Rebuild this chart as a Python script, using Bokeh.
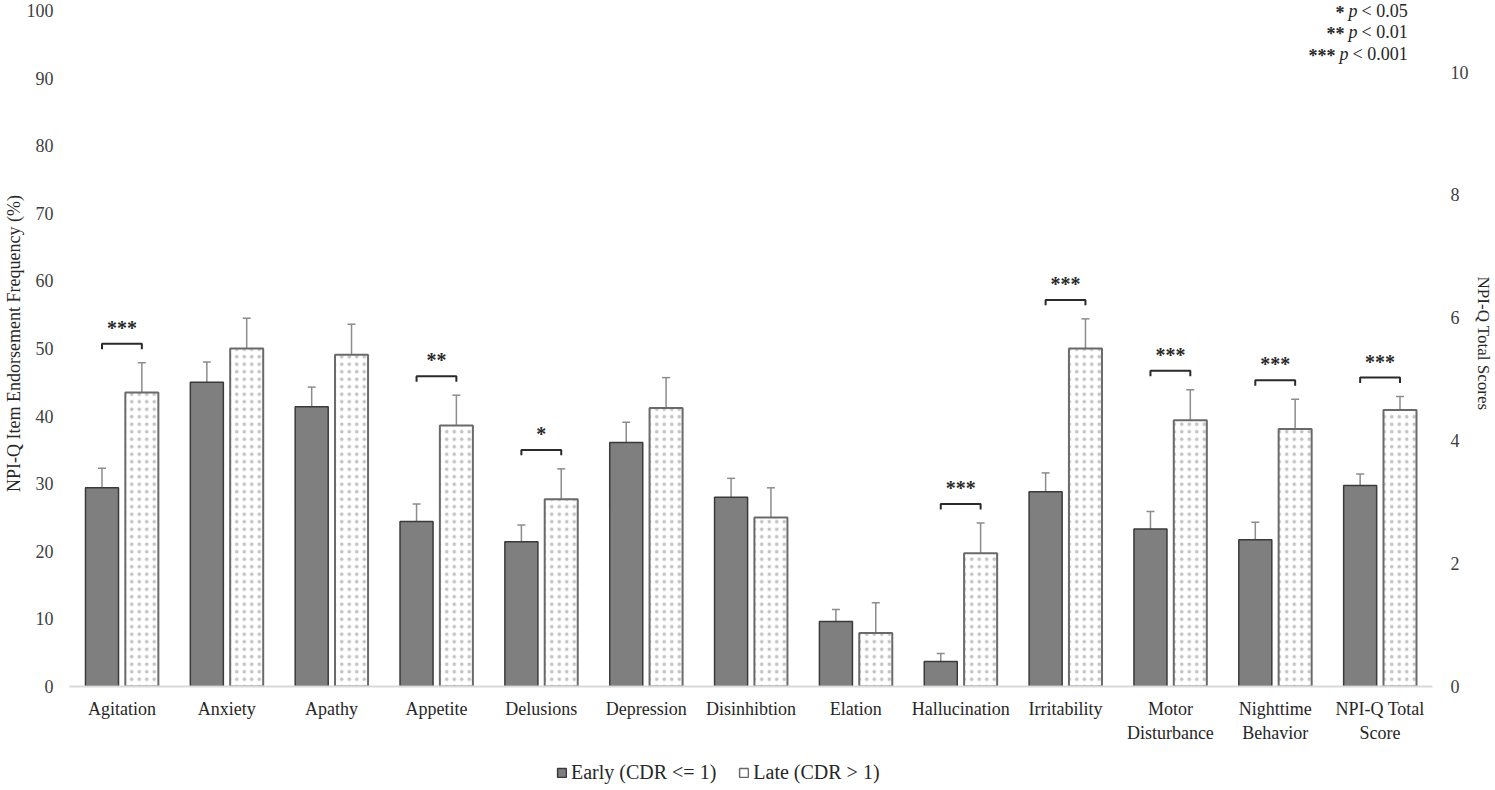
import numpy as np
from bokeh.plotting import figure
from bokeh.layouts import column
from bokeh.models import (Range1d, LinearAxis, FixedTicker, Whisker, TeeHead,
                          ColumnDataSource, Legend, LegendItem, Label)
from bokeh.embed import file_html
from bokeh.resources import INLINE
from bokeh.core.properties import value

# ---------------- data ----------------
categories = ["Agitation", "Anxiety", "Apathy", "Appetite", "Delusions", "Depression",
              "Disinhibtion", "Elation", "Hallucination", "Irritability",
              "Motor\nDisturbance", "Nighttime\nBehavior", "NPI-Q Total\nScore"]
early_pct = [29.4, 45.0, 41.4, 24.4, 21.4, 36.1, 28.0, 9.6, 3.7, 28.8, 23.3, 21.7]
early_err = [2.9, 3.0, 2.9, 2.6, 2.5, 3.0, 2.8, 1.8, 1.2, 2.8, 2.6, 2.6]
late_pct = [43.5, 50.0, 49.1, 38.6, 27.7, 41.2, 25.0, 7.9, 19.7, 50.0, 39.4, 38.1]
late_err = [4.4, 4.5, 4.5, 4.5, 4.5, 4.5, 4.4, 4.5, 4.5, 4.4, 4.5, 4.4]
total_early = [3.27]
total_early_err = [0.19]
total_late = [4.50]
total_late_err = [0.22]
sig = ["***", "", "", "**", "*", "", "", "", "***", "***", "***", "***", "***"]
left_ticks = [0, 10, 20, 30, 40, 50, 60, 70, 80, 90, 100]
right_ticks = [0, 2, 4, 6, 8, 10]
sig_legend = [("*", "< 0.05"), ("**", "< 0.01"), ("***", "< 0.001")]
series_names = ["Early (CDR <= 1)", "Late (CDR > 1)"]

# ---------------- style ----------------
FONT = "Liberation Serif"
DARK = "#7f7f7f"
TXT = "#262626"
OFF = 0.19
BW = 0.315
ERRC = "#8c8c8c"
TOP_PAD = 1.015  # axis max a little above the top tick

n_items = len(early_pct)
idx = np.arange(n_items)
ti = len(categories) - 1

p = figure(width=1495, height=750, output_backend="svg", toolbar_location=None,
           x_range=Range1d(-0.5, len(categories) - 0.5), y_range=Range1d(0, 100 * TOP_PAD),
           min_border_left=69, min_border_right=62, min_border_top=0, min_border_bottom=64)
p.extra_y_ranges = {"right": Range1d(0, 11 * TOP_PAD)}
p.outline_line_color = None
p.grid.visible = False
p.border_fill_color = "white"

src_e = ColumnDataSource(dict(x=idx - OFF, top=early_pct,
                              lo=np.array(early_pct) - np.array(early_err),
                              hi=np.array(early_pct) + np.array(early_err)))
src_l = ColumnDataSource(dict(x=idx + OFF, top=late_pct,
                              lo=np.array(late_pct) - np.array(late_err),
                              hi=np.array(late_pct) + np.array(late_err)))
src_te = ColumnDataSource(dict(x=[ti - OFF], top=total_early,
                               lo=np.array(total_early) - np.array(total_early_err),
                               hi=np.array(total_early) + np.array(total_early_err)))
src_tl = ColumnDataSource(dict(x=[ti + OFF], top=total_late,
                               lo=np.array(total_late) - np.array(total_late_err),
                               hi=np.array(total_late) + np.array(total_late_err)))

dark_kw = dict(fill_color=DARK, line_color="#3a3a3a", line_width=1.5)
light_kw = dict(fill_color="white", line_color="#6a6a6a", line_width=2,
                hatch_pattern="dot", hatch_color="#c4c4c4", hatch_scale=7.5, hatch_weight=0.6)

p.vbar(x="x", top="top", width=BW, bottom=0, source=src_e, **dark_kw)
p.vbar(x="x", top="top", width=BW, bottom=0, source=src_l, **light_kw)
p.vbar(x="x", top="top", width=BW, bottom=0, source=src_te, y_range_name="right", **dark_kw)
p.vbar(x="x", top="top", width=BW, bottom=0, source=src_tl, y_range_name="right", **light_kw)

for s, rn in [(src_e, "default"), (src_l, "default"), (src_te, "right"), (src_tl, "right")]:
    w = Whisker(source=s, base="x", upper="hi", lower="lo", line_color=ERRC, line_width=1.5,
                upper_head=TeeHead(size=8, line_color=ERRC, line_width=1.5),
                lower_head=TeeHead(size=8, line_color=ERRC, line_width=1.5))
    if rn == "right":
        w.y_range_name = "right"
    p.add_layout(w)

# significance brackets
GAP = 2.8
LEG = 0.8
bx, by, tx, ty, tt = [], [], [], [], []
for i in range(n_items):
    if sig[i]:
        lv = max(early_pct[i] + early_err[i], late_pct[i] + late_err[i]) + GAP
        bx.append([i - OFF, i - OFF, i + OFF, i + OFF])
        by.append([lv - LEG, lv, lv, lv - LEG])
        tx.append(i); ty.append(lv); tt.append(sig[i])
p.multi_line(xs=bx, ys=by, line_color="#2a2a2a", line_width=2)
p.text(x=tx, y=ty, text=tt, text_align="center", text_baseline="middle", y_offset=-16,
       text_font=value(FONT), text_font_size="20px", text_font_style="bold", text_color="#2a2a2a")

k = 11 / 100
lvt = max(total_early[0] + total_early_err[0], total_late[0] + total_late_err[0]) + GAP * k
p.multi_line(xs=[[ti - OFF, ti - OFF, ti + OFF, ti + OFF]],
             ys=[[lvt - LEG * k, lvt, lvt, lvt - LEG * k]],
             line_color="#2a2a2a", line_width=2, y_range_name="right")
p.text(x=[ti], y=[lvt], text=[sig[ti]], text_align="center", text_baseline="middle", y_offset=-16,
       text_font=value(FONT), text_font_size="20px", text_font_style="bold", text_color="#2a2a2a",
       y_range_name="right")

# axes
xa = p.xaxis[0]
xa.ticker = FixedTicker(ticks=list(range(len(categories))))
xa.major_label_overrides = {i: c for i, c in enumerate(categories)}
xa.axis_line_color = "#d9d9d9"
xa.axis_line_width = 2
xa.major_tick_line_color = None
xa.minor_tick_line_color = None
xa.major_label_text_font = FONT
xa.major_label_text_font_size = "18px"
xa.major_label_text_color = TXT
xa.major_label_standoff = 6

ya = p.yaxis[0]
ya.ticker = FixedTicker(ticks=left_ticks)
ya.axis_line_color = None
ya.major_tick_line_color = None
ya.minor_tick_line_color = None
ya.major_label_text_font = FONT
ya.major_label_text_font_size = "18px"
ya.major_label_text_color = "#404040"
ya.major_label_standoff = 10
ya.axis_label = "NPI-Q Item Endorsement Frequency (%)"
ya.axis_label_text_font = FONT
ya.axis_label_text_font_size = "18px"
ya.axis_label_text_font_style = "normal"
ya.axis_label_text_color = TXT
ya.axis_label_standoff = 0

ra = LinearAxis(y_range_name="right", ticker=FixedTicker(ticks=right_ticks),
                axis_label="NPI-Q Total Scores")
ra.axis_line_color = None
ra.major_tick_line_color = None
ra.minor_tick_line_color = None
ra.major_label_text_font = FONT
ra.major_label_text_font_size = "18px"
ra.major_label_text_color = "#404040"
ra.major_label_standoff = 12
ra.axis_label_text_font = FONT
ra.axis_label_text_font_size = "17px"
ra.axis_label_text_font_style = "normal"
ra.axis_label_text_color = TXT
ra.axis_label_standoff = 2
p.add_layout(ra, "right")

# significance key (top right), screen units relative to the plot frame
p_right = [1288, 1288, 1279]
ys = [676, 655, 633]
for (stars, rest), yy, pr in zip(sig_legend, ys, p_right):
    p.add_layout(Label(x=pr + 4, y=yy, x_units="screen", y_units="screen", text=rest,
                       text_align="left", text_baseline="middle", text_font=FONT,
                       text_font_size="18px", text_color=TXT))
    p.add_layout(Label(x=pr, y=yy, x_units="screen", y_units="screen", text="p",
                       text_align="right", text_baseline="middle", text_font=FONT,
                       text_font_size="18px", text_font_style="italic", text_color=TXT))
    p.add_layout(Label(x=pr - 13, y=yy - 2, x_units="screen", y_units="screen", text=stars,
                       text_align="right", text_baseline="middle", text_font=FONT,
                       text_font_size="18px", text_font_style="bold", text_color=TXT))

# legend strip below the chart (its frame is aligned with the chart's frame)
p2 = figure(width=1495, height=40, output_backend="svg", toolbar_location=None,
            x_axis_type=None, y_axis_type=None, x_range=Range1d(0, 1), y_range=Range1d(0, 1),
            min_border_left=69, min_border_right=62, min_border_top=0, min_border_bottom=0)
p2.outline_line_color = None
p2.grid.visible = False
swatch = dict(x=[0.5], top=[0.5])
g_e = p2.vbar(x="x", top="top", width=0.01, source=ColumnDataSource(swatch), **dark_kw)
g_l = p2.vbar(x="x", top="top", width=0.01, source=ColumnDataSource(swatch),
              fill_color="white", line_color="#6a6a6a", line_width=1.5)
g_e.visible = False   # only their legend swatches are shown
g_l.visible = False
legend = Legend(items=[LegendItem(label=series_names[0], renderers=[g_e]),
                       LegendItem(label=series_names[1], renderers=[g_l])],
                orientation="horizontal", location=(487, 6),
                border_line_color=None, background_fill_alpha=0, padding=0, margin=0,
                glyph_width=11, glyph_height=11, label_standoff=4, spacing=22,
                label_text_font=FONT, label_text_font_size="20px", label_text_color=TXT,
                label_height=18, inactive_fill_alpha=0)
p2.add_layout(legend)

layout = column(p, p2, spacing=0)
open("out.html", "w").write(file_html(layout, INLINE))
